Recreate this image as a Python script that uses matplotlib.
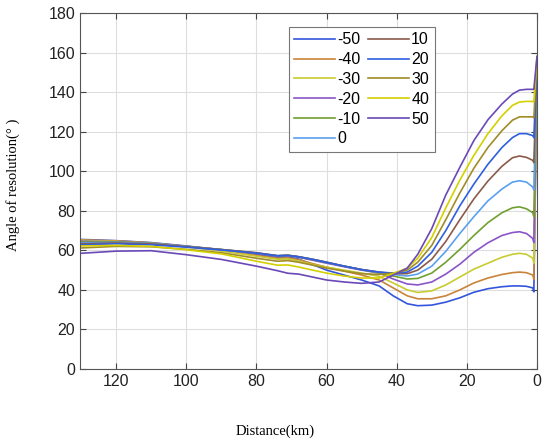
import matplotlib
matplotlib.use('Agg')
import matplotlib.pyplot as plt

# distance grid (km) shared by all curves
distance = [130, 120, 110, 100, 90, 80, 74, 71, 68, 64, 60, 55, 50, 45,
            41, 37, 34, 30, 26, 22, 18, 14, 10, 7, 5, 3, 1.2, 0.9, 0]

labels = ['-50', '-40', '-30', '-20', '-10', '0', '10', '20', '30', '40', '50']
colors = ['#3355dd', '#c8843a', '#c8cc30', '#8a55c8', '#70a030', '#5aa0f0',
          '#8b5a4a', '#2f5fe0', '#a08c28', '#d4d000', '#6a48b8']

# angle of resolution (deg), one list per curve
a_m50 = [65.5, 64.9, 63.9, 62.2, 60.3, 57.8, 56.3, 56.6, 55.6, 52.8, 50.0, 47.5, 45.0, 42.0,
         37.0, 33.0, 32.0, 32.3, 33.8, 36.0, 38.8, 40.6, 41.6, 42.0, 42.0, 41.8, 41.0, 39.0, 150]
a_m40 = [65.3, 64.8, 63.8, 62.0, 60.0, 57.5, 56.0, 56.2, 55.3, 53.3, 51.5, 49.5, 47.5, 45.0,
         41.0, 37.0, 35.5, 35.5, 37.0, 40.0, 43.5, 46.0, 47.8, 48.7, 49.0, 48.7, 47.5, 45.3, 151]
a_m30 = [65.0, 64.5, 63.5, 61.7, 59.7, 57.0, 55.5, 55.6, 54.6, 52.8, 51.5, 50.0, 48.5, 46.8,
         43.5, 40.0, 38.7, 39.5, 42.5, 46.5, 50.5, 53.5, 56.5, 58.0, 58.5, 58.0, 56.0, 53.5, 152]
a_m20 = [64.6, 64.3, 63.5, 62.0, 60.3, 58.4, 57.0, 57.3, 56.5, 55.0, 53.5, 51.7, 50.0, 48.5,
         45.5, 43.0, 42.5, 44.0, 48.0, 53.0, 59.0, 63.8, 67.5, 69.0, 69.4, 68.5, 66.0, 63.9, 153]
a_m10 = [64.2, 64.2, 63.5, 62.0, 60.4, 58.6, 57.2, 57.5, 56.7, 55.3, 53.8, 52.0, 50.2, 48.6,
         47.0, 45.5, 45.8, 48.5, 54.0, 60.5, 67.5, 74.0, 79.0, 81.5, 82.0, 81.0, 79.0, 77.0, 154]
a_0 = [63.8, 64.0, 63.4, 62.0, 60.4, 58.7, 57.3, 57.5, 56.8, 55.5, 54.0, 52.0, 50.3, 48.8,
       47.8, 47.0, 48.0, 52.0, 59.5, 68.5, 77.0, 85.0, 91.0, 94.5, 95.2, 94.5, 92.0, 90.5, 155]
a_10 = [63.3, 63.7, 63.2, 61.9, 60.4, 58.8, 57.3, 57.5, 56.8, 55.5, 54.0, 52.0, 50.3, 49.0,
        48.2, 48.2, 50.0, 55.5, 64.5, 75.5, 86.0, 95.0, 102.5, 106.8, 107.7, 107.0, 105.5, 104.3, 156]
a_20 = [62.8, 63.3, 62.8, 61.6, 60.2, 58.6, 57.2, 57.4, 56.7, 55.4, 53.9, 52.0, 50.2, 49.0,
        48.5, 49.0, 52.0, 59.0, 70.0, 82.5, 93.5, 103.5, 112.0, 117.0, 119.0, 119.0, 118.0, 117.0, 157]
a_30 = [61.2, 62.0, 61.8, 60.5, 58.8, 56.0, 54.5, 54.8, 54.0, 52.5, 51.0, 49.5, 48.2, 47.8,
        48.5, 50.0, 54.0, 62.5, 75.5, 89.0, 101.5, 112.0, 120.5, 125.8, 127.5, 127.5, 127.5, 127.0, 158]
a_40 = [62.2, 62.5, 62.0, 60.3, 58.2, 54.5, 52.5, 52.6, 51.6, 50.0, 48.5, 47.0, 46.0, 46.0,
        48.3, 51.0, 56.0, 66.5, 81.5, 95.5, 108.0, 119.0, 128.0, 133.3, 135.0, 135.3, 135.3, 135.0, 158]
a_50 = [58.5, 59.6, 59.8, 57.8, 55.4, 52.0, 49.7, 48.4, 48.0, 46.5, 45.0, 44.0, 43.3, 44.0,
        47.5, 51.0, 58.0, 71.0, 88.0, 102.0, 115.5, 126.0, 134.0, 139.0, 141.0, 141.4, 141.4, 141.4, 158]

curves = [a_m50, a_m40, a_m30, a_m20, a_m10, a_0, a_10, a_20, a_30, a_40, a_50]

fig = plt.figure(figsize=(5.5, 4.47), dpi=100)
ax = fig.add_axes([80 / 550, 1 - 369 / 447, 457 / 550, 356 / 447])

for vals, lab, col in zip(curves, labels, colors):
    ax.plot(distance, vals, color=col, lw=1.2, label=lab)

ax.set_xlim(130.3, 0)
ax.set_ylim(0, 180)
ax.set_xticks(range(0, 121, 20))
ax.set_yticks(range(0, 181, 20))
ax.grid(True, color='#dedede', lw=0.8)
ax.set_axisbelow(True)
ax.tick_params(direction='in', length=4, top=True, right=True,
               labelsize=11.5, color='#444444', labelcolor='#222222')
for sp in ax.spines.values():
    sp.set_color('#555555')
    sp.set_linewidth(0.8)
for lbl in ax.get_xticklabels() + ax.get_yticklabels():
    lbl.set_family('Liberation Sans')

leg = ax.legend(ncol=2, loc='upper left', bbox_to_anchor=(0.457, 0.961),
                borderaxespad=0, fancybox=False, framealpha=1,
                edgecolor='#777777', handlelength=2.55, handletextpad=0.15,
                columnspacing=0.45, labelspacing=0.3, borderpad=0.35,
                prop={'family': 'Liberation Sans', 'size': 11.5})
leg.get_frame().set_linewidth(0.8)

fig.text(275.5 / 550, 1 - 431 / 447, 'Distance(km)', family='Liberation Serif',
         fontsize=10.5, ha='center', va='center')
fig.text(12.7 / 550, 1 - 184.5 / 447, 'Angle of resolution(° )', family='Liberation Serif',
         fontsize=10.5, ha='center', va='center', rotation=90)

fig.savefig('out.png', dpi=100)
